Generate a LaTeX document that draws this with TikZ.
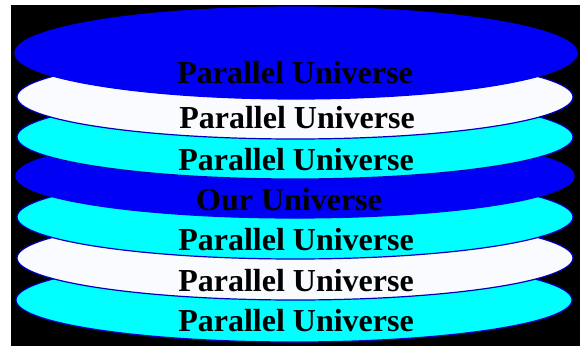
\documentclass[tikz,border=0pt]{standalone}
\usepackage{fontspec}
\setmainfont{Liberation Serif}
\usetikzlibrary{shapes.geometric}
\definecolor{dblue}{RGB}{0,0,245}
\definecolor{rimblue}{RGB}{0,0,190}
\definecolor{dcyan}{RGB}{0,255,255}
\definecolor{dwhite}{RGB}{250,251,255}
\tikzset{
  disc/.style={ellipse, draw=rimblue, line width=1.2pt, inner sep=0pt, minimum width=556pt, minimum height=84pt},
  lbl/.style={font=\bfseries\fontsize{32}{36}\selectfont, anchor=base, inner sep=0pt, text=black}
}
\begin{document}
\begin{tikzpicture}[x=1pt,y=-1pt]
\useasboundingbox (0,0) rectangle (580,348);
\fill[black] (11,5) rectangle (580,346);
% bottom first
\node[disc, fill=dcyan] (e7) at (294,300) {};
\node[lbl] (t7) at (296,331) {Parallel Universe};
\node[disc, fill=dwhite] (e6) at (295,258) {};
\node[lbl] (t6) at (296,291) {Parallel Universe};
\node[disc, fill=dcyan] (e5) at (295,217) {};
\node[lbl] (t5) at (296,250) {Parallel Universe};
\node[disc, fill=dblue, draw=dblue, minimum width=558pt] (e4) at (295,176) {};
\node[lbl] (t4) at (289,210) {Our Universe};
\node[disc, fill=dcyan] (e3) at (295,137) {};
\node[lbl] (t3) at (296,170) {Parallel Universe};
\node[disc, fill=dwhite] (e2) at (295,97) {};
\node[lbl] (t2) at (297,128) {Parallel Universe};
\node[disc, fill=dblue, draw=dblue, minimum width=562pt, minimum height=92pt] (e1) at (296,53) {};
\node[lbl] (t1) at (295,83) {Parallel Universe};
\end{tikzpicture}
\end{document}
